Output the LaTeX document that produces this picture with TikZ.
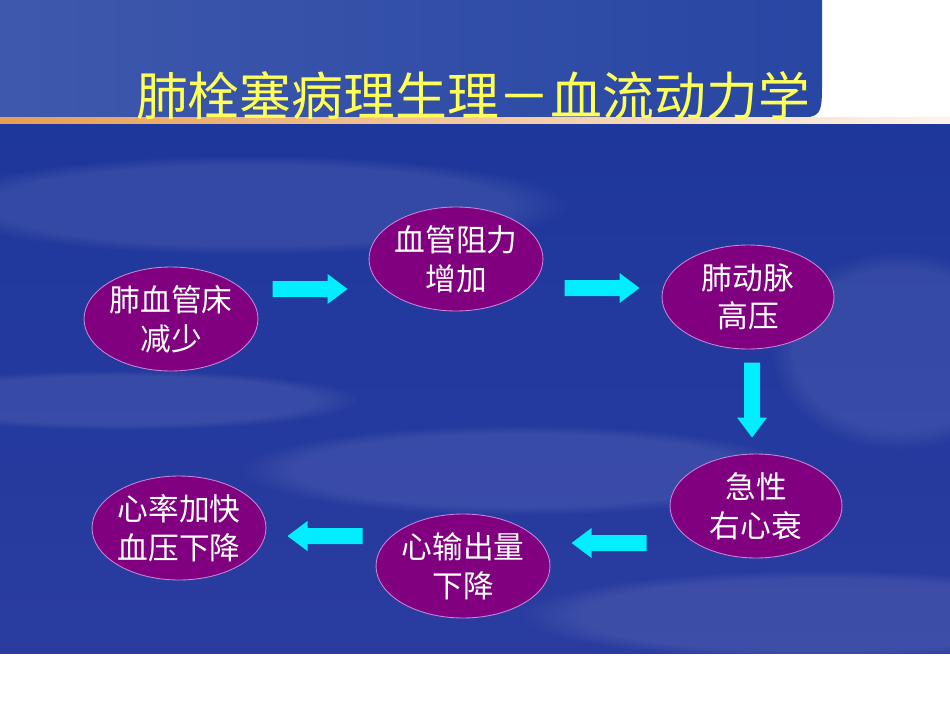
\documentclass[tikz,border=0pt]{standalone}
\usepackage{fontspec}
\newfontfamily\cjk{Noto Sans CJK SC}
\usetikzlibrary{shapes.geometric,fadings}

\definecolor{topblue}{RGB}{40,70,163}
\definecolor{deepblue}{RGB}{30,55,155}
\definecolor{paleblue}{RGB}{76,90,176}
\definecolor{lowblue}{RGB}{42,60,160}
\definecolor{bubble}{RGB}{128,0,128}
\definecolor{bubbleline}{RGB}{200,130,215}
\definecolor{flowcyan}{RGB}{0,238,255}
\definecolor{titleyellow}{RGB}{255,255,90}
\definecolor{rulegold}{RGB}{232,158,82}

\tikzset{flow arrow/.pic={
		\fill[flowcyan] (-37.5,-8) -- (17.5,-8) -- (17.5,-15) -- (37.5,0)
		-- (17.5,15) -- (17.5,8) -- (-37.5,8) -- cycle;
}}

\begin{document}
\begin{tikzpicture}[x=0.02cm,y=-0.02cm,
		state node/.style={ellipse,draw=bubbleline,line width=0.5pt,fill=bubble,
			text=white,align=center,inner sep=0pt,
			minimum width=3.44cm,minimum height=2.08cm,
			font=\cjk\fontsize{17.5}{22}\selectfont},
		streak/.style={white,opacity=0.09,path fading=circle with fuzzy edge 20 percent}]
		
		\useasboundingbox (0,0) rectangle (950,713);
		
		% slide background
		\fill[white] (0,0) rectangle (950,713);
		\shade[left color=topblue!90!white, right color=topblue]
		(0,0) -- (822,0) -- (822,81) .. controls (822,118) .. (785,118) -- (0,118) -- cycle;
		\shade[left color=rulegold, right color=white!88!rulegold] (0,118) rectangle (950,125);
		\shade[top color=deepblue, middle color=paleblue, bottom color=lowblue]
		(0,125) rectangle (950,653);
		\fill[streak] (250,205) ellipse [x radius=320, y radius=50];
		\fill[streak] (120,400) ellipse [x radius=240, y radius=30];
		\fill[streak] (520,470) ellipse [x radius=280, y radius=45];
		\fill[streak] (820,615) ellipse [x radius=300, y radius=45];
		\fill[streak] (900,350) ellipse [x radius=130, y radius=100];
		
		% title
		\node[text=titleyellow, font=\cjk\fontsize{29.5}{32}\selectfont] (title) at (473,96)
		{肺栓塞病理生理－血流动力学};
		
		% states
		\node[state node] (1) at (171,319) {肺血管床\\减少};
		\node[state node] (2) at (456,259) {血管阻力\\增加};
		\node[state node] (3) at (748,297) {肺动脉\\高压};
		\node[state node] (4) at (756,506) {急性\\右心衰};
		\node[state node] (5) at (463,566) {心输出量\\下降};
		\node[state node] (6) at (179,528) {心率加快\\血压下降};
		
		% arrows between states
		\pic (a1) at (310,289) {flow arrow};
		\pic (a2) at (602,288) {flow arrow};
		\pic[rotate=-90] (a3) at (752,400) {flow arrow};
		\pic[rotate=180] (a4) at (609,543) {flow arrow};
		\pic[rotate=180] (a5) at (325,536) {flow arrow};
		
\end{tikzpicture}
\end{document}
